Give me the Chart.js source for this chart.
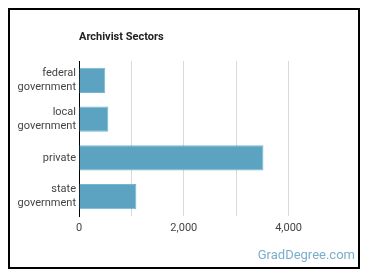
<!DOCTYPE html>
<html><head><meta charset="utf-8">
<script src="https://cdn.jsdelivr.net/npm/chart.js@4"></script>
<style>
html,body{margin:0;padding:0;background:#fff;}
#wrap{position:relative;width:370px;height:278px;overflow:hidden;}
#frame{position:absolute;left:8px;top:8px;width:348px;height:257px;border:2px solid #000;box-sizing:content-box;pointer-events:none;}
#c{position:absolute;left:0;top:0;}
#wm{position:absolute;right:15px;top:247px;font:13px Roboto,sans-serif;color:#7aaecb;}
</style></head><body>
<div id="wrap"><canvas id="c" width="370" height="278"></canvas><div id="frame"></div><div id="wm">GradDegree.com</div></div>
<script>
const categories = [['federal','government'],['local','government'],['private'],['state','government']];
const values = [500, 560, 3520, 1095];
const tickLabels = {0:'0',2000:'2,000',4000:'4,000'};
const titleText = 'Archivist Sectors';

const titlePlugin = {id:'ttl', afterDraw(chart){const c=chart.ctx;c.save();c.font='bold 11px Roboto';c.fillStyle='#222';c.textBaseline='middle';c.textAlign='left';c.fillText(titleText, chart.chartArea.left, 37);c.restore();}};

new Chart(document.getElementById('c'), {
  type:'bar',
  data:{labels:categories, datasets:[{data:values, backgroundColor:'rgb(91,163,192)', borderColor:'rgb(120,182,207)', borderWidth:1, barPercentage:0.65, categoryPercentage:1}]},
  options:{
    indexAxis:'y', responsive:false, animation:false,
    layout:{padding:{top:61,bottom:38,left:0,right:29}},
    plugins:{legend:{display:false}, tooltip:{enabled:false}},
    scales:{
      x:{min:0,max:5000,
        ticks:{stepSize:1000,autoSkip:false,maxRotation:0,padding:6,color:'#444',font:{family:'Roboto',size:11},callback:v=>tickLabels[v]??''},
        grid:{drawTicks:false,color:ctx=>(ctx.tick && (ctx.tick.value===0||ctx.tick.value===5000))?'rgba(0,0,0,0)':'#d9d9d9'},
        border:{display:false},
        afterFit:s=>{s.height=24;}
      },
      y:{
        ticks:{color:'#444',padding:3,font:{family:'Roboto',size:11,lineHeight:1.27}},
        grid:{display:true,drawOnChartArea:false,drawTicks:false},
        border:{display:true,color:'#000',width:1},
        afterFit:s=>{s.width=79;}
      }
    }
  },
  plugins:[titlePlugin]
});
</script></body></html>
